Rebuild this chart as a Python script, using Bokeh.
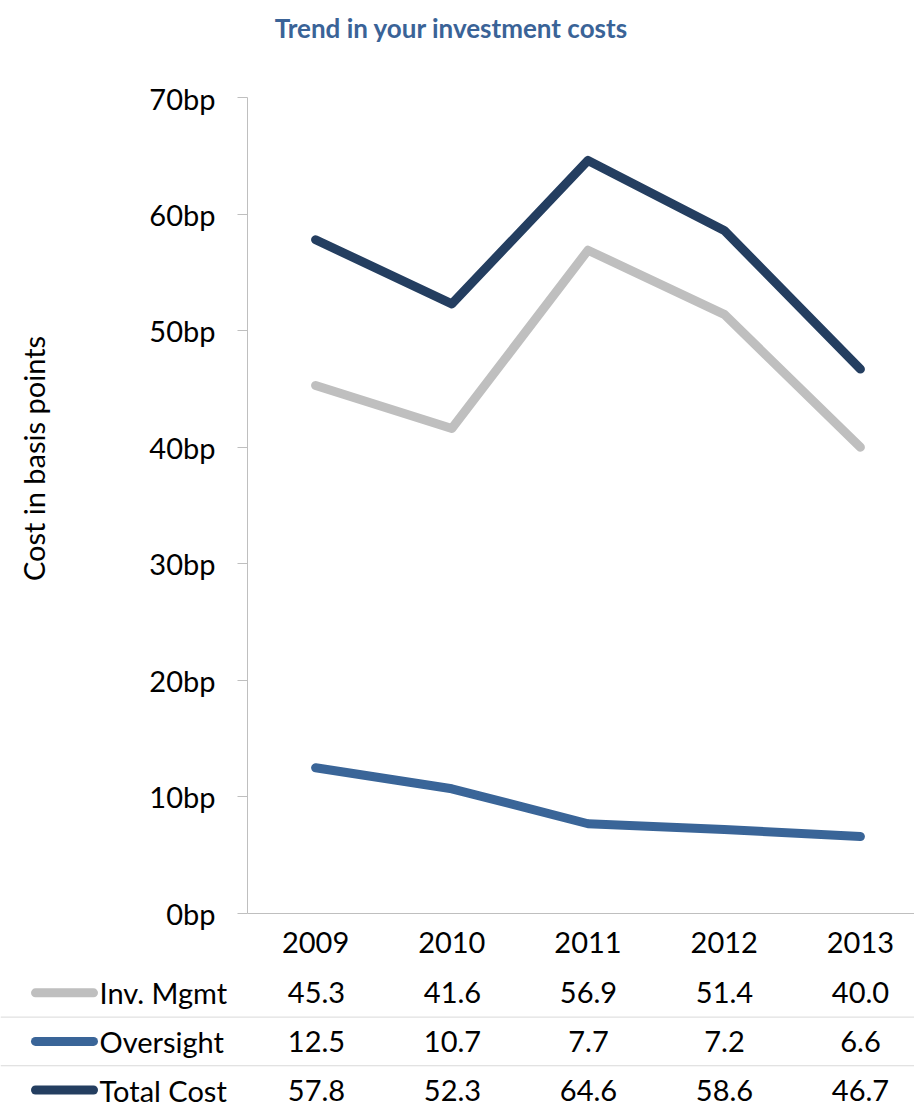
import math
from bokeh.plotting import figure
from bokeh.models import (Range1d, FixedTicker, PrintfTickFormatter, Span)
from bokeh.layouts import column, row
from bokeh.core.properties import value
from bokeh.embed import file_html
from bokeh.resources import INLINE

# ---- data ----
years = ["2009", "2010", "2011", "2012", "2013"]
inv_mgmt = [45.3, 41.6, 56.9, 51.4, 40.0]
oversight = [12.5, 10.7, 7.7, 7.2, 6.6]
total_cost = [57.8, 52.3, 64.6, 58.6, 46.7]
series_names = ["Inv. Mgmt", "Oversight", "Total Cost"]
series_values = [inv_mgmt, oversight, total_cost]
series_colors = ["#BFBFBF", "#3A6598", "#243E60"]
y_ticks = [0, 10, 20, 30, 40, 50, 60, 70]
title_text = "Trend in your investment costs"
y_label_text = "Cost in basis points"

FONT = "Lato"
AXIS_GRAY = "#BFBFBF"

# layout constants (pixels)
W = 914
TOP_H = 80          # title strip height
LEFT_W = 100        # y-label strip width
MAIN_H = 888
TABLE_H = 1109 - TOP_H - MAIN_H
# category i is centered at pixel 316 + 136*i
CX0, CW = 316.0, 136.0

idx = list(range(len(years)))


def blank(fig):
    fig.frame_align = False
    fig.outline_line_color = None
    fig.grid.visible = False
    fig.background_fill_color = "white"
    fig.border_fill_color = "white"


# ---- title strip ----
tf = figure(width=W, height=TOP_H, output_backend="svg", toolbar_location=None,
            x_range=Range1d(0, W), y_range=Range1d(TOP_H, 0),
            x_axis_location=None, y_axis_location=None, min_border=0,
            min_border_left=0, min_border_right=0, min_border_top=0, min_border_bottom=0)
blank(tf)
tf.text(x=[451], y=[27], text=[title_text], text_font=value(FONT), text_font_size="26px",
        text_font_style="bold", text_color="#3A6397", text_align="center",
        text_baseline="middle")

# ---- y-label strip ----
lf = figure(width=LEFT_W, height=MAIN_H, output_backend="svg", toolbar_location=None,
            x_range=Range1d(0, LEFT_W), y_range=Range1d(MAIN_H, 0),
            x_axis_location=None, y_axis_location=None, min_border=0,
            min_border_left=0, min_border_right=0, min_border_top=0, min_border_bottom=0)
blank(lf)
lf.text(x=[33], y=[458 - TOP_H], text=[y_label_text], angle=math.pi / 2,
        text_font=value(FONT), text_font_size="29px", text_color="black",
        text_align="center", text_baseline="middle")

# ---- main chart ----
p = figure(width=W - LEFT_W, height=MAIN_H, output_backend="svg", toolbar_location=None,
           x_range=Range1d(-0.5, (W - CX0) / CW), y_range=Range1d(0, 70),
           min_border_left=247 - LEFT_W, min_border_right=0, min_border_top=97 - TOP_H,
           min_border_bottom=55, title=None)
blank(p)

for vals, col in zip(series_values, series_colors):
    p.line(x=idx, y=vals, line_width=9, line_color=col, line_cap="round", line_join="round")

xa = p.xaxis[0]
xa.ticker = FixedTicker(ticks=idx)
xa.major_label_overrides = {i: y for i, y in zip(idx, years)}
xa.major_tick_line_color = None
xa.minor_tick_line_color = None
xa.axis_line_color = AXIS_GRAY
xa.major_label_text_font = FONT
xa.major_label_text_font_size = "29px"
xa.major_label_text_color = "black"
xa.major_label_standoff = 12

ya = p.yaxis[0]
ya.ticker = FixedTicker(ticks=y_ticks)
ya.formatter = PrintfTickFormatter(format="%dbp")
ya.minor_tick_line_color = None
ya.major_tick_out = 10
ya.major_tick_in = 0
ya.major_tick_line_color = AXIS_GRAY
ya.axis_line_color = AXIS_GRAY
ya.major_label_text_font = FONT
ya.major_label_text_font_size = "29px"
ya.major_label_text_color = "black"
ya.major_label_standoff = 22

# ---- data table below ----
q = figure(width=W, height=TABLE_H, output_backend="svg", toolbar_location=None,
           x_range=Range1d(-CX0 / CW, (W - CX0) / CW), y_range=Range1d(2.4, -0.5),
           x_axis_location=None, y_axis_location=None,
           min_border=0, min_border_left=0, min_border_right=0,
           min_border_top=0, min_border_bottom=0, title=None)
blank(q)

KEY_X0 = (35 - CX0) / CW
KEY_X1 = (93 - CX0) / CW
NAME_X = (99 - CX0) / CW

for r, (name, vals, col) in enumerate(zip(series_names, series_values, series_colors)):
    q.segment(x0=[KEY_X0], y0=[r], x1=[KEY_X1], y1=[r], line_width=9,
              line_color=col, line_cap="round")
    q.text(x=[NAME_X], y=[r], text=[name], text_font=value(FONT), text_font_size="29px",
           text_align="left", text_baseline="middle", text_color="black")
    q.text(x=idx, y=[r] * len(idx), text=["%.1f" % v for v in vals], text_font=value(FONT),
           text_font_size="29px", text_align="center", text_baseline="middle", text_color="black")

for r in range(len(series_names) - 1):
    q.add_layout(Span(location=r + 0.5, dimension="width", line_color="#D9D9D9", line_width=1))

layout = column(tf, row(lf, p, spacing=0), q, spacing=0)
open("out.html", "w").write(file_html(layout, INLINE))
